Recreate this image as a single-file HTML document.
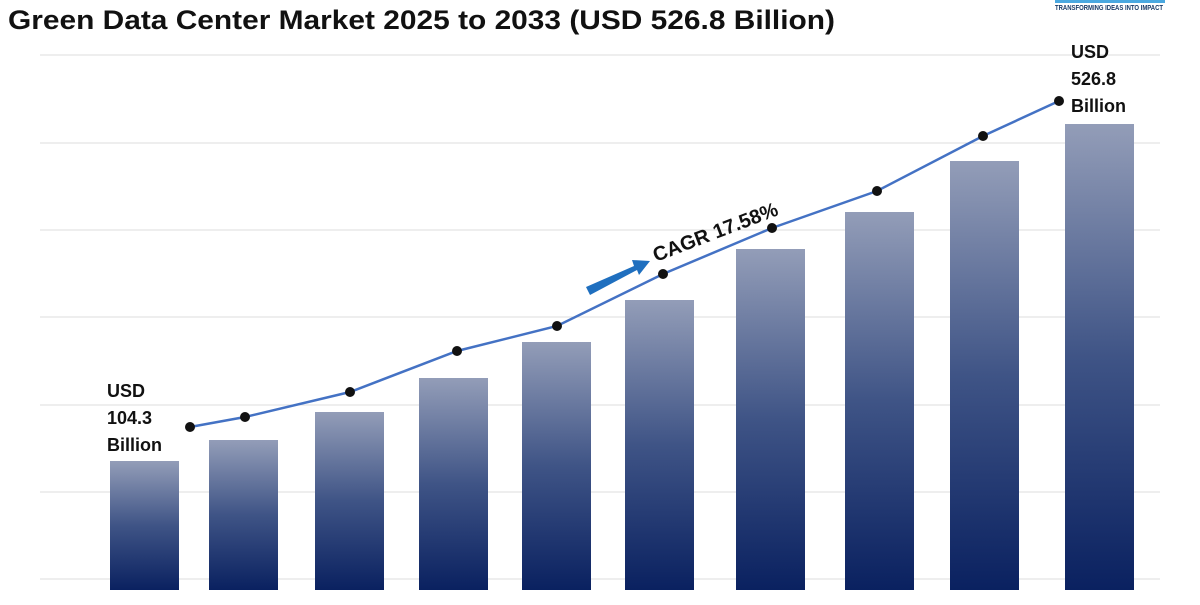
<!DOCTYPE html>
<html><head><meta charset="utf-8"><style>
body{margin:0;background:#fff;width:1200px;height:600px;overflow:hidden;font-family:"Liberation Sans",Arial,sans-serif}
</style></head><body>
<svg width="1200" height="600" xmlns="http://www.w3.org/2000/svg">
<defs><linearGradient id="g" x1="0" y1="0" x2="0" y2="1"><stop offset="0" stop-color="#939db8"/><stop offset="0.5" stop-color="#3f5486"/><stop offset="1" stop-color="#0a2160"/></linearGradient></defs>
<text x="8" y="29" font-size="27" font-weight="bold" fill="#111" textLength="827" lengthAdjust="spacingAndGlyphs">Green Data Center Market 2025 to 2033 (USD 526.8 Billion)</text>
<text x="1055" y="10" font-size="7" font-weight="bold" fill="#1a3a66" textLength="108" lengthAdjust="spacingAndGlyphs">TRANSFORMING IDEAS INTO IMPACT</text>
<rect x="1055" y="0" width="110" height="3" fill="#4aa8e0"/>
<g stroke="#dcdcdc" stroke-width="1">
<line x1="40" y1="55" x2="1160" y2="55"/><line x1="40" y1="143" x2="1160" y2="143"/><line x1="40" y1="230" x2="1160" y2="230"/><line x1="40" y1="317" x2="1160" y2="317"/><line x1="40" y1="405" x2="1160" y2="405"/><line x1="40" y1="492" x2="1160" y2="492"/><line x1="40" y1="579" x2="1160" y2="579"/>
</g>
<g fill="url(#g)">
<rect x="110" y="461" width="69" height="129"/>
<rect x="209" y="440" width="69" height="150"/>
<rect x="315" y="412" width="69" height="178"/>
<rect x="419" y="378" width="69" height="212"/>
<rect x="522" y="342" width="69" height="248"/>
<rect x="625" y="300" width="69" height="290"/>
<rect x="736" y="249" width="69" height="341"/>
<rect x="845" y="212" width="69" height="378"/>
<rect x="950" y="161" width="69" height="429"/>
<rect x="1065" y="124" width="69" height="466"/>
</g>
<polyline points="190,427 245,417 350,392 457,351 557,326 663,274 772,228 877,191 983,136 1059,101" fill="none" stroke="#4472c4" stroke-width="2.5"/>
<g fill="#111">
<circle cx="190" cy="427" r="5"/><circle cx="245" cy="417" r="5"/><circle cx="350" cy="392" r="5"/><circle cx="457" cy="351" r="5"/><circle cx="557" cy="326" r="5"/><circle cx="663" cy="274" r="5"/><circle cx="772" cy="228" r="5"/><circle cx="877" cy="191" r="5"/><circle cx="983" cy="136" r="5"/><circle cx="1059" cy="101" r="5"/>
</g>
<g font-size="18" font-weight="bold" fill="#111">
<text x="107" y="397">USD</text><text x="107" y="424">104.3</text><text x="107" y="451">Billion</text>
<text x="1071" y="58">USD</text><text x="1071" y="85">526.8</text><text x="1071" y="112">Billion</text>
</g>
<polygon points="586,287 634,266 632,260 650,261 639,275 637,270 590,295" fill="#1f6fbf"/>
<text x="0" y="0" font-size="20" font-weight="bold" fill="#111" transform="translate(656,262) rotate(-21)">CAGR 17.58%</text>
</svg>
</body></html>
